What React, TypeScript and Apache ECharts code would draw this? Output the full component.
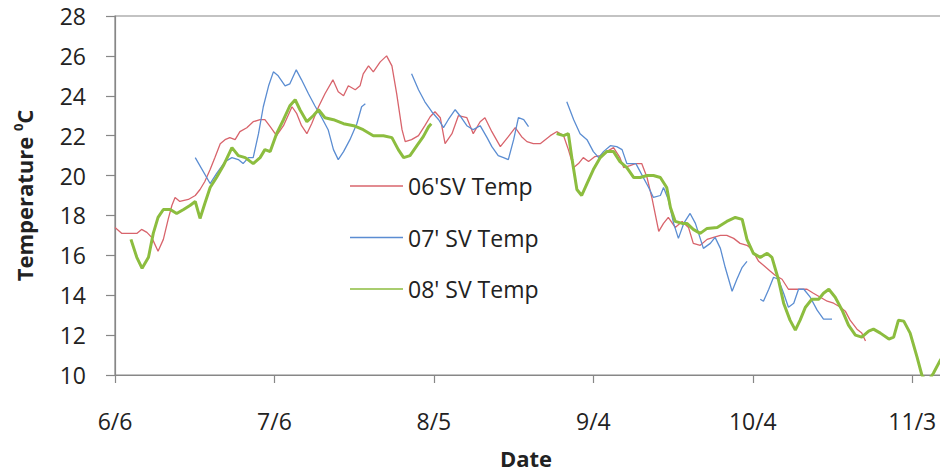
import React, { useEffect, useRef } from "react";
import * as echarts from "echarts";

// Days are counted from 6/6; ticks every 30 days.
const tickLabels = ["6/6", "7/6", "8/5", "9/4", "10/4", "11/3"];
const tickStepDays = 30;

// 2006 surface-water temperature (°C) by day offset
const sv06: [number, number][] = [
  [0.0, 17.4], [1.3, 17.1], [4.1, 17.1], [5.0, 17.3], [6.0, 17.15], [6.9, 16.9], [8.1, 16.2], [9.1, 16.8],
  [10.0, 17.8], [10.7, 18.5], [11.3, 18.9], [12.2, 18.7], [13.8, 18.8], [15.1, 19.0], [16.0, 19.3], [16.9, 19.7],
  [17.9, 20.3], [18.8, 20.9], [19.8, 21.6], [20.7, 21.8], [21.6, 21.9], [22.6, 21.8], [23.5, 22.2], [24.8, 22.4],
  [26.0, 22.7], [27.3, 22.8], [28.2, 22.8], [29.2, 22.45], [30.4, 22.0], [31.7, 22.5], [33.3, 23.45], [34.2, 23.1],
  [35.1, 22.5], [36.1, 22.1], [37.0, 22.6], [38.3, 23.45], [39.5, 24.1], [41.0, 24.8], [42.0, 24.2], [43.0, 24.0],
  [43.9, 24.5], [45.2, 24.3], [46.1, 24.5], [46.7, 25.1], [47.7, 25.5], [48.6, 25.2], [49.9, 25.7], [51.1, 26.0],
  [52.1, 25.5], [53.0, 24.1], [54.0, 22.3], [54.6, 21.7], [55.8, 21.8], [57.1, 22.0], [58.3, 22.5], [59.3, 22.95],
  [60.2, 23.2], [61.2, 22.9], [62.1, 21.6], [63.4, 22.1], [64.6, 23.0], [66.2, 22.9], [67.4, 22.1], [68.7, 22.7],
  [69.6, 22.9], [70.9, 22.2], [72.5, 21.45], [74.0, 21.95], [75.3, 22.4], [76.5, 21.95], [77.5, 21.7], [78.7, 21.6],
  [80.0, 21.6], [81.9, 22.0], [83.1, 22.2], [84.4, 22.0], [85.3, 21.3], [86.3, 20.4], [87.2, 20.6], [88.1, 20.9],
  [89.1, 20.7], [90.3, 20.95], [91.3, 21.0], [92.5, 21.2], [93.8, 21.4], [95.0, 20.9], [95.7, 20.4], [96.9, 20.5],
  [97.9, 20.6], [99.1, 20.6], [100.1, 19.9], [101.0, 18.9], [102.3, 17.2], [103.2, 17.6], [104.1, 17.9], [105.4, 17.4],
  [106.7, 17.7], [107.9, 17.4], [108.8, 16.6], [110.1, 16.5], [111.4, 16.8], [112.6, 16.9], [113.9, 17.0], [115.1, 17.0],
  [116.4, 16.85], [117.6, 16.6], [118.9, 16.5], [119.8, 16.3], [121.1, 15.7], [122.0, 15.5], [123.3, 15.2], [124.2, 15.0],
  [125.5, 14.8], [126.7, 14.3], [127.7, 14.3], [128.9, 14.3], [130.2, 14.3], [131.4, 14.1], [132.7, 13.9], [134.0, 13.7],
  [135.2, 13.6], [136.5, 13.4], [137.4, 13.2], [138.3, 12.75], [139.6, 12.3], [140.5, 12.1], [141.2, 11.7],
];

// 2007 record has gaps, kept as separate runs
const sv07Runs: [number, number][][] = [
  [
    [15.1, 20.9], [17.9, 19.6], [19.1, 20.1], [20.7, 20.7], [22.0, 20.9], [23.2, 20.8], [24.1, 20.6], [25.1, 20.9],
    [26.0, 20.9], [27.0, 22.1], [27.9, 23.45], [28.9, 24.5], [29.8, 25.2], [30.7, 25.0], [32.0, 24.5], [32.9, 24.6],
    [34.1, 25.3], [35.1, 24.8], [36.4, 24.1], [37.6, 23.5], [38.9, 22.9], [40.1, 22.3], [41.1, 21.3], [42.0, 20.8],
    [43.0, 21.2], [44.2, 21.8], [45.5, 22.6], [46.4, 23.45], [47.1, 23.6],
  ],
  [
    [55.8, 25.1], [57.1, 24.3], [58.3, 23.7], [59.6, 23.2], [60.9, 22.8], [61.8, 22.4], [62.7, 22.8], [64.0, 23.3],
    [64.9, 23.0], [66.2, 22.5], [67.4, 22.3], [68.7, 22.5], [70.0, 21.9], [70.9, 21.45], [72.1, 21.0], [73.1, 20.9],
    [74.0, 20.8], [75.0, 21.8], [75.9, 22.9], [76.9, 22.8], [77.8, 22.45],
  ],
  [
    [85.0, 23.7], [86.3, 22.8], [87.5, 22.1], [88.8, 21.8], [90.0, 21.2], [91.0, 20.9], [91.9, 21.2], [93.2, 21.5],
    [94.4, 21.45], [95.4, 21.3], [96.3, 20.6], [98.0, 20.6], [100.4, 19.4], [101.3, 18.9], [102.6, 19.0], [103.2, 19.4],
    [104.1, 18.8], [105.1, 17.6], [106.0, 16.85], [107.0, 17.6], [108.2, 18.1], [109.2, 17.6], [109.8, 17.1], [110.7, 16.35],
    [112.0, 16.6], [112.9, 16.9], [113.9, 16.35], [114.8, 15.4], [116.1, 14.2], [117.0, 14.8], [118.0, 15.4], [118.9, 15.7],
  ],
  [
    [121.4, 13.8], [122.0, 13.7], [123.0, 14.3], [123.9, 14.9], [124.8, 14.8], [125.8, 14.1], [126.7, 13.4], [127.7, 13.6],
    [128.6, 14.3], [129.6, 14.3], [130.8, 13.9], [132.1, 13.25], [133.3, 12.8], [134.9, 12.8],
  ],
];

// 2008 record, two runs
const sv08Runs: [number, number][][] = [
  [
    [3.0, 16.8], [4.1, 15.9], [5.1, 15.35], [6.3, 15.9], [7.2, 17.1], [8.1, 17.9], [9.1, 18.3], [10.4, 18.3],
    [11.6, 18.1], [12.9, 18.3], [14.1, 18.5], [15.1, 18.7], [16.0, 17.85], [16.9, 18.6], [17.9, 19.4], [19.1, 19.9],
    [20.4, 20.5], [22.0, 21.4], [23.2, 21.0], [24.5, 20.9], [26.0, 20.6], [27.3, 20.9], [28.2, 21.3], [29.2, 21.2],
    [30.4, 22.1], [31.7, 22.8], [32.9, 23.5], [33.9, 23.8], [34.8, 23.3], [36.1, 22.7], [37.3, 23.0], [38.3, 23.3],
    [39.5, 22.9], [41.1, 22.8], [43.0, 22.6], [44.9, 22.5], [46.7, 22.3], [48.6, 22.0], [50.5, 22.0], [52.1, 21.9],
    [53.3, 21.3], [54.3, 20.9], [55.5, 21.0], [56.8, 21.5], [58.0, 21.95], [59.0, 22.45], [59.5, 22.6],
  ],
  [
    [83.1, 22.1], [84.4, 22.0], [85.3, 22.1], [86.0, 20.8], [86.9, 19.3], [87.8, 19.0], [88.8, 19.6], [90.0, 20.3],
    [91.3, 20.9], [92.5, 21.2], [93.8, 21.2], [95.0, 20.7], [96.3, 20.4], [97.6, 19.9], [98.8, 19.9], [100.1, 20.0],
    [101.3, 20.0], [102.6, 19.9], [103.8, 19.4], [104.5, 18.4], [105.4, 17.7], [106.7, 17.6], [107.6, 17.6], [108.8, 17.3],
    [110.1, 17.1], [111.4, 17.35], [113.3, 17.4], [115.1, 17.7], [116.7, 17.9], [118.0, 17.8], [118.9, 16.8], [120.1, 16.1],
    [121.4, 15.9], [122.7, 16.1], [123.6, 15.9], [124.8, 14.8], [125.8, 13.6], [127.0, 12.75], [128.0, 12.25], [128.9, 12.75],
    [129.9, 13.4], [131.1, 13.8], [132.4, 13.8], [133.3, 14.1], [134.3, 14.3], [135.5, 13.9], [136.8, 13.25], [138.0, 12.5],
    [139.3, 12.0], [140.5, 11.9], [141.8, 12.2], [142.7, 12.3], [144.0, 12.1], [145.6, 11.8], [146.5, 11.9], [147.4, 12.75],
    [148.4, 12.7], [149.6, 12.1], [150.9, 10.9], [151.8, 10.0], [152.8, 9.6], [154.0, 10.1], [155.3, 10.75], [156.4, 11.2],
  ],
];

const seriesNames = ["06'SV Temp", "07' SV Temp", "08' SV Temp"];
const seriesColors = ["#d8646c", "#5b8dd2", "#8cbd3f"];

// Join runs into one data list, leaving a break between runs.
function joinRuns(runs: [number, number][][]): (number | string)[][] {
  const out: (number | string)[][] = [];
  runs.forEach((run, i) => {
    if (i > 0) out.push([(runs[i - 1][runs[i - 1].length - 1][0] + run[0][0]) / 2, "-"]);
    run.forEach((p) => out.push(p));
  });
  return out;
}

const FONT = "'Open Sans', 'Noto Sans', sans-serif";
const TEXT = "#222";
const AXIS = "#878787";

export default function App() {
  const ref = useRef<HTMLDivElement>(null);

  useEffect(() => {
    if (!ref.current) return;
    const chart = echarts.init(ref.current, null, { renderer: "svg" });
    chart.setOption({
      animation: false,
      backgroundColor: "#ffffff",
      textStyle: { fontFamily: FONT },
      // plot area runs past the right edge of the canvas
      grid: {
        left: 115,
        top: 16,
        width: 877,
        height: 359,
        outerBoundsMode: "none",
        show: true,
        borderColor: AXIS,
        borderWidth: 1.2,
        containLabel: false,
      },
      legend: {
        orient: "vertical",
        left: 345,
        top: 167,
        itemWidth: 53,
        itemHeight: 1.5,
        itemGap: 23.5,
        icon: "rect",
        data: seriesNames,
        textStyle: { fontFamily: FONT, fontSize: 23, color: TEXT, lineHeight: 28 },
      },
      xAxis: {
        type: "value",
        min: 0,
        max: 165,
        interval: tickStepDays,
        splitLine: { show: false },
        axisLine: { show: true, lineStyle: { color: AXIS, width: 1.2 } },
        axisTick: { show: true, inside: false, length: 8, lineStyle: { color: AXIS, width: 1.2 } },
        axisLabel: {
          margin: 34,
          fontFamily: FONT,
          fontSize: 23,
          color: TEXT,
          showMaxLabel: false,
          formatter: (v: number) => {
            const i = Math.round(v / tickStepDays);
            return Math.abs(v - i * tickStepDays) < 1e-6 && tickLabels[i] ? tickLabels[i] : "";
          },
        },
      },
      yAxis: {
        type: "value",
        min: 10,
        max: 28,
        interval: 2,
        splitLine: { show: false },
        axisLine: { show: true, lineStyle: { color: AXIS, width: 1.2 } },
        axisTick: { show: true, inside: false, length: 9, lineStyle: { color: AXIS, width: 1.2 } },
        axisLabel: { margin: 29, fontFamily: FONT, fontSize: 23, color: TEXT },
        name: "{t|Temperature }{s|0}{t|C}",
        nameLocation: "middle",
        nameRotate: 90,
        nameGap: 78,
        nameTextStyle: {
          rich: {
            t: { fontFamily: FONT, fontSize: 22, fontWeight: "bold", color: TEXT, lineHeight: 26 },
            s: { fontFamily: FONT, fontSize: 13, fontWeight: "bold", color: TEXT, verticalAlign: "top", lineHeight: 26 },
          },
        },
      },
      graphic: [
        {
          type: "text",
          x: 526,
          y: 458,
          style: {
            text: "Date",
            fontFamily: FONT,
            fontSize: 22,
            fontWeight: "bold",
            fill: TEXT,
            align: "center",
            verticalAlign: "middle",
          },
        },
      ],
      series: [
        {
          name: seriesNames[0],
          type: "line",
          data: sv06,
          showSymbol: false,
          symbol: "none",
          clip: true,
          lineStyle: { color: seriesColors[0], width: 1.3 },
          itemStyle: { color: seriesColors[0] },
        },
        {
          name: seriesNames[1],
          type: "line",
          data: joinRuns(sv07Runs),
          showSymbol: false,
          symbol: "none",
          connectNulls: false,
          clip: true,
          lineStyle: { color: seriesColors[1], width: 1.3 },
          itemStyle: { color: seriesColors[1] },
        },
        {
          name: seriesNames[2],
          type: "line",
          data: joinRuns(sv08Runs),
          showSymbol: false,
          symbol: "none",
          connectNulls: false,
          clip: true,
          lineStyle: { color: seriesColors[2], width: 3 },
          itemStyle: { color: seriesColors[2] },
        },
      ],
    });
    return () => chart.dispose();
  }, []);

  return (
    <div
      ref={ref}
      style={{ position: "fixed", left: 0, top: 0, width: 940, height: 474, overflow: "hidden", background: "#fff" }}
    />
  );
}
